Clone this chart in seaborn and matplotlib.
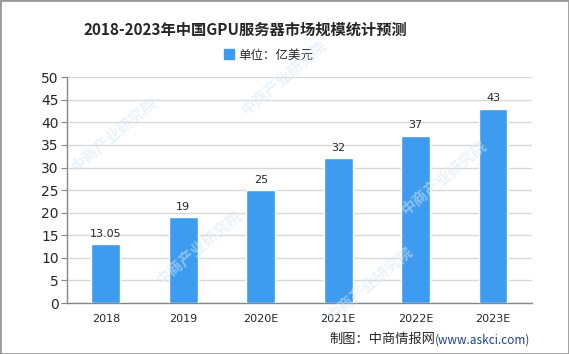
import matplotlib
matplotlib.use('Agg')
import matplotlib.pyplot as plt
import seaborn as sns
import pandas as pd
import numpy as np

# Daten
years = ['2018', '2019', '2020E', '2021E', '2022E', '2023E']
values = [13.05, 19, 25, 32, 37, 43]
labels = ['13.05', '19', '25', '32', '37', '43']
y_ticks = [0, 5, 10, 15, 20, 25, 30, 35, 40, 45, 50]

sns.set_style('white')
plt.rcParams['font.family'] = ['Noto Sans CJK SC', 'DejaVu Sans']

df = pd.DataFrame({'year': years, 'value': values})

fig = plt.figure(figsize=(5.69, 3.54), dpi=100)
ax = fig.add_axes([0.1178, 0.144, 0.817, 0.638])

bar_color = '#3d9cf0'
sns.barplot(data=df, x='year', y='value', color=bar_color, width=0.37,
            saturation=1, ax=ax, zorder=3)

# Wasserzeichen (blass)
for (wx, wy) in [(0.2, 0.62), (0.5, 0.78), (0.78, 0.5), (0.35, 0.3), (0.65, 0.2)]:
    fig.text(wx, wy, '中商产业研究院', fontsize=11, color='#d6e8f6', alpha=0.5,
             rotation=40, ha='center', va='center', fontweight='bold', zorder=0)

ax.set_ylim(0, 50)
ax.set_xlim(-0.5, 5.5)
ax.set_yticks(y_ticks)
ax.set_yticklabels([str(t) for t in y_ticks], fontsize=10, family='DejaVu Sans')
ax.set_xticks(range(len(years)))
ax.set_xticklabels(years, fontsize=8, family='DejaVu Sans')
ax.set_xticks(np.arange(-0.5, 6, 1), minor=True)
ax.tick_params(axis='x', which='major', length=0, pad=8)
ax.tick_params(axis='x', which='minor', length=5, color='#888888', direction='out')
ax.tick_params(axis='y', length=4, color='#888888', direction='out', left=True, pad=2)
ax.yaxis.grid(True, color='#d9d9d9', linewidth=1, zorder=0)
ax.set_axisbelow(True)
ax.set_xlabel('')
ax.set_ylabel('')
for s in ['top', 'right']:
    ax.spines[s].set_visible(False)
for s in ['left', 'bottom']:
    ax.spines[s].set_color('#888888')
    ax.spines[s].set_linewidth(1)
ax.patch.set_alpha(0)

# Werte über den Balken
for i, (v, t) in enumerate(zip(values, labels)):
    ax.text(i, v + 1.2, t, ha='center', va='bottom', fontsize=8, family='DejaVu Sans')

fig.text(0.431, 0.915, '2018-2023年中国GPU服务器市场规模统计预测', ha='center', va='center',
         fontsize=11, fontweight='bold')

# Legende
leg = ax.legend(handles=[plt.Rectangle((0, 0), 1, 1, color=bar_color)], labels=['单位：亿美元'],
                loc='center', bbox_to_anchor=(0.472, 0.845), bbox_transform=fig.transFigure,
                frameon=False, fontsize=9, handlelength=0.8, handleheight=0.8, handletextpad=0.3)

fig.text(0.765, 0.04, '制图：中商情报网', ha='right', va='center', fontsize=9.5)
fig.text(0.765, 0.04, '(www.askci.com)', ha='left', va='center', fontsize=8.5, color='#1f3f8f')

# Rahmen
fig.patches.append(plt.Rectangle((0, 0), 1, 1, transform=fig.transFigure, fill=False,
                                 edgecolor='#999999', linewidth=2))

plt.savefig('out.png', dpi=100)
